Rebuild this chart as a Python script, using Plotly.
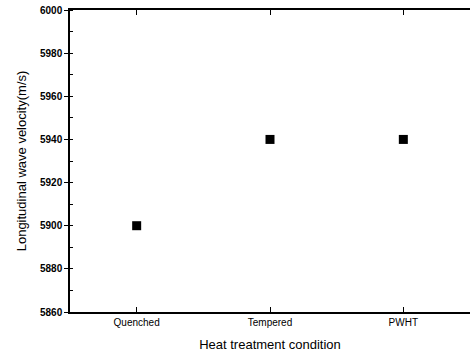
import plotly.graph_objects as go

categories = ["Quenched", "Tempered", "PWHT"]
velocity = [5900, 5940, 5940]
y_ticks = [5860, 5880, 5900, 5920, 5940, 5960, 5980, 6000]

fig = go.Figure()
fig.add_trace(go.Scatter(
    x=list(range(len(categories))), y=velocity, mode="markers",
    marker=dict(symbol="square", size=9, color="black"),
    showlegend=False,
))

fig.update_layout(
    width=473, height=357,
    margin=dict(l=70, r=3, t=10, b=45),
    paper_bgcolor="white", plot_bgcolor="white",
    font=dict(family="Liberation Sans, Arial, sans-serif", color="black"),
)
fig.update_xaxes(
    range=[-0.5, 2.5],
    tickvals=list(range(len(categories))), ticktext=categories,
    ticks="inside", ticklen=5, tickcolor="black",
    showline=True, linecolor="black", linewidth=1.5, mirror="allticks",
    showgrid=False, zeroline=False,
    tickfont=dict(size=10),
    title=dict(text="Heat treatment condition", font=dict(size=13), standoff=13),
)
fig.update_yaxes(
    range=[5860, 6000],
    tickvals=y_ticks,
    ticks="outside", ticklen=4, tickcolor="black",
    minor=dict(dtick=10, ticks="inside", ticklen=3, tickcolor="black"),
    showline=True, linecolor="black", linewidth=1.5,
    showgrid=False, zeroline=False,
    tickfont=dict(size=10, weight="bold"),
    title=dict(text="Longitudinal wave velocity(m/s)", font=dict(size=13), standoff=10),
)
fig.write_html("out.html")
